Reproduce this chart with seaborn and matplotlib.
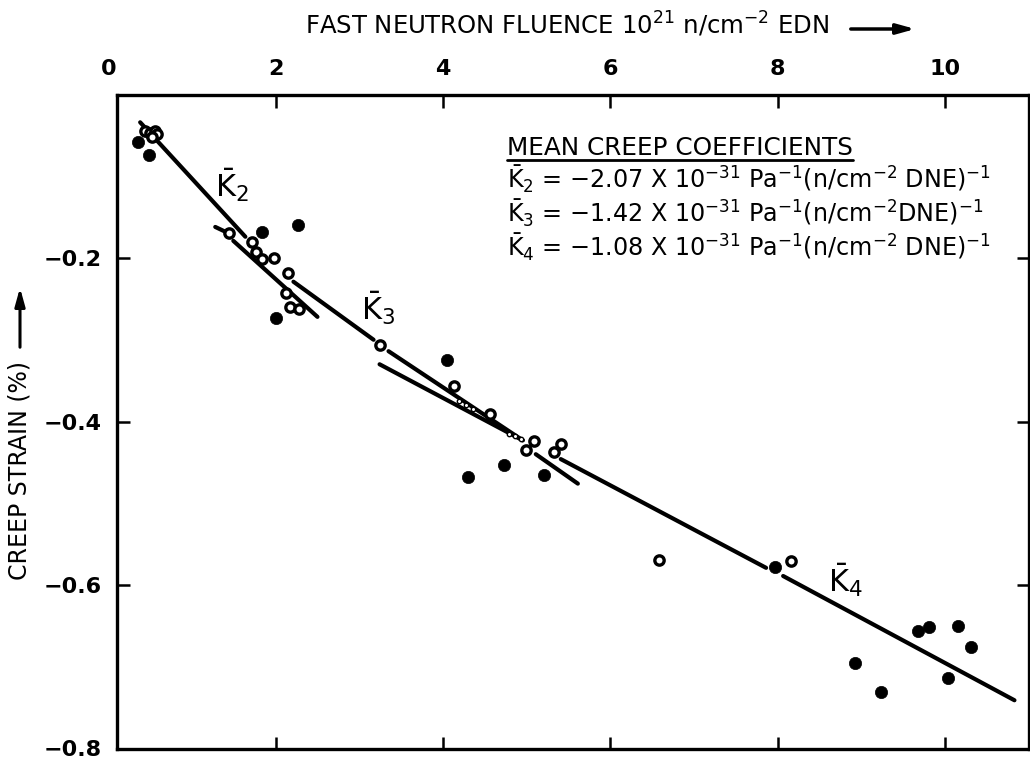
import numpy as np
import pandas as pd
import matplotlib
matplotlib.use("Agg")
import matplotlib.pyplot as plt
from matplotlib.lines import Line2D
import seaborn as sns

# ---------------- data ----------------
filled_x = [0.353, 0.485, 1.838, 2.269, 2.006, 4.042, 4.293, 4.725, 5.204,
            7.970, 8.928, 9.240, 9.683, 9.814, 10.162, 10.317, 10.042]
filled_y = [-0.058, -0.074, -0.168, -0.160, -0.273, -0.325, -0.468, -0.453, -0.465,
            -0.578, -0.696, -0.731, -0.656, -0.651, -0.650, -0.676, -0.714]

open_x = [0.437, 0.497, 0.557, 0.581, 0.521, 1.443, 1.719, 1.766, 1.838, 1.982,
          2.150, 2.126, 2.174, 2.281, 3.240, 4.126, 4.557, 4.988, 5.084, 5.323,
          5.407, 6.581, 8.162]
open_y = [-0.045, -0.047, -0.045, -0.048, -0.052, -0.169, -0.180, -0.193, -0.201, -0.200,
          -0.218, -0.243, -0.260, -0.262, -0.306, -0.357, -0.391, -0.435, -0.424, -0.437,
          -0.428, -0.569, -0.571]

small_x = [4.186, 4.269, 4.353, 4.784, 4.856, 4.928]
small_y = [-0.375, -0.380, -0.385, -0.415, -0.418, -0.422]

# fitted creep-coefficient line segments (start / end)
seg_x0 = [0.377, 1.275, 1.491, 2.210, 3.347, 3.240, 5.108, 5.407, 8.066]
seg_y0 = [-0.034, -0.162, -0.179, -0.229, -0.314, -0.330, -0.440, -0.446, -0.589]
seg_x1 = [1.635, 1.419, 2.497, 3.168, 4.952, 4.952, 5.611, 7.862, 10.832]
seg_y1 = [-0.174, -0.169, -0.272, -0.300, -0.423, -0.423, -0.476, -0.579, -0.741]

k_labels = [r"$\bar{\mathrm{K}}_2$", r"$\bar{\mathrm{K}}_3$", r"$\bar{\mathrm{K}}_4$"]
k_label_x = [1.275, 3.012, 8.605]
k_label_y = [-0.125, -0.276, -0.609]

x_ticks = [2, 4, 6, 8, 10]
y_ticks = [-0.2, -0.4, -0.6, -0.8]

legend_title = "MEAN CREEP COEFFICIENTS"
legend_rows = [
    r"$\bar{\mathrm{K}}_2$ = $-$2.07 X 10$^{-31}$ Pa$^{-1}$(n/cm$^{-2}$ DNE)$^{-1}$",
    r"$\bar{\mathrm{K}}_3$ = $-$1.42 X 10$^{-31}$ Pa$^{-1}$(n/cm$^{-2}$DNE)$^{-1}$",
    r"$\bar{\mathrm{K}}_4$ = $-$1.08 X 10$^{-31}$ Pa$^{-1}$(n/cm$^{-2}$ DNE)$^{-1}$",
]
x_title = r"FAST NEUTRON FLUENCE 10$^{21}$ n/cm$^{-2}$ EDN"
y_title = "CREEP STRAIN (%)"

# ---------------- style ----------------
sns.set_theme(style="white")
plt.rcParams["font.family"] = ["DejaVu Sans"]
plt.rcParams["mathtext.fontset"] = "dejavusans"
plt.rcParams["axes.unicode_minus"] = True
plt.rcParams["text.color"] = "black"
plt.rcParams["xtick.color"] = "black"
plt.rcParams["ytick.color"] = "black"
plt.rcParams["axes.labelcolor"] = "black"

W, H = 1030, 764
fig = plt.figure(figsize=(W / 100, H / 100), dpi=100)
ax = fig.add_axes([117 / W, 1 - 748.5 / H, (1028.5 - 117) / W, (748.5 - 94.5) / H])

# line segments
seg_df = pd.DataFrame({
    "seg": np.repeat(np.arange(len(seg_x0)), 2),
    "x": np.ravel(np.column_stack([seg_x0, seg_x1])),
    "y": np.ravel(np.column_stack([seg_y0, seg_y1])),
})
sns.lineplot(data=seg_df, x="x", y="y", units="seg", estimator=None, sort=False,
             color="black", linewidth=3.0, solid_capstyle="round", ax=ax, zorder=2)

# points
sns.scatterplot(x=filled_x, y=filled_y, ax=ax, color="black", edgecolor="black",
                s=78, linewidth=0.5, zorder=4)
sns.scatterplot(x=open_x, y=open_y, ax=ax, color="white", edgecolor="black",
                s=45, linewidth=2.4, zorder=4)
sns.scatterplot(x=small_x, y=small_y, ax=ax, color="white", edgecolor="black",
                s=10, linewidth=1.0, zorder=4)

for lab, lx, ly in zip(k_labels, k_label_x, k_label_y):
    ax.text(lx, ly, lab, fontsize=22, ha="left", va="baseline", color="black")

ax.set_xlim(0.1, 11.0)
ax.set_ylim(-0.8, 0.0)
ax.set_xlabel("")
ax.set_ylabel("")
ax.set_xticks(x_ticks)
ax.set_xticklabels([str(t) for t in x_ticks])
ax.set_yticks(y_ticks)
ax.set_yticklabels([f"{t:.1f}".replace("-", "\u2212") for t in y_ticks])
ax.xaxis.tick_top()
ax.tick_params(axis="both", direction="in", length=9, width=1.8, color="black",
               top=True, bottom=True, left=True, right=True,
               labeltop=True, labelbottom=False, labelleft=True, labelright=False)
ax.tick_params(axis="x", pad=11, labelsize=16)
ax.tick_params(axis="y", pad=11, labelsize=16)
for lab in ax.get_xticklabels() + ax.get_yticklabels():
    lab.set_fontweight("bold")
    lab.set_color("black")
for sp in ax.spines.values():
    sp.set_visible(True)
    sp.set_linewidth(2.4)
    sp.set_color("black")

# "0" label at the origin (just outside the visible frame)
ax.annotate("0", xy=(0, 1), xycoords=("data", "axes fraction"), xytext=(0, 11),
            textcoords="offset points", ha="center", va="bottom", fontsize=16,
            fontweight="bold", annotation_clip=False)

# axis titles with arrows
fig.text(305 / W, 1 - 34 / H, x_title, fontsize=17.6, ha="left", va="baseline")
ax.annotate("", xy=(918 / W, 1 - 29 / H), xytext=(848 / W, 1 - 29 / H),
            xycoords="figure fraction", textcoords="figure fraction",
            arrowprops=dict(arrowstyle="-|>,head_length=0.9,head_width=0.25",
                            lw=2.5, color="black"))
fig.text(20 / W, 1 - 470 / H, y_title, fontsize=17, rotation=90, ha="center", va="center")
ax.annotate("", xy=(20 / W, 1 - 285 / H), xytext=(20 / W, 1 - 350 / H),
            xycoords="figure fraction", textcoords="figure fraction",
            arrowprops=dict(arrowstyle="-|>,head_length=0.9,head_width=0.25",
                            lw=2.2, color="black"))

# legend block
header = fig.text(507 / W, 1 - 155 / H, legend_title, fontsize=17.8, ha="left", va="baseline")
row_base = [189, 223, 257]
for txt, yb in zip(legend_rows, row_base):
    fig.text(507 / W, 1 - yb / H, txt, fontsize=17.2, ha="left", va="baseline")

fig.canvas.draw()
bb = header.get_window_extent(renderer=fig.canvas.get_renderer())
fig.add_artist(Line2D([bb.x0 / W, bb.x1 / W], [1 - 160 / H, 1 - 160 / H],
                      transform=fig.transFigure, color="black", lw=2.0))

fig.savefig("out.png", dpi=100, facecolor="white")
